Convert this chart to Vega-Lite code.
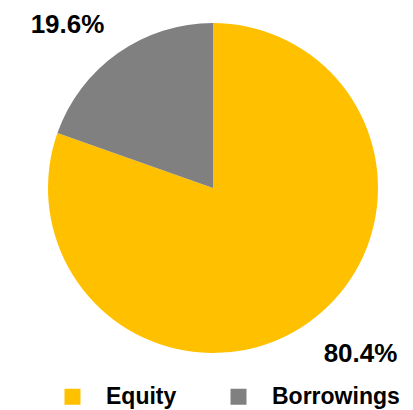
{
  "$schema": "https://vega.github.io/schema/vega-lite/v6.json",
  "width": 426,
  "height": 376,
  "autosize": "pad",
  "padding": 0,
  "background": "white",
  "data": {"values": [
    {"category": "Equity", "value": 80.4, "label": "80.4%"},
    {"category": "Borrowings", "value": 19.6, "label": "19.6%"}
  ]},
  "transform": [
    {"stack": "value", "groupby": [], "sort": [{"field": "value", "order": "descending"}], "as": ["v0", "v1"]},
    {"calculate": "(datum.v0 + datum.v1) / 2", "as": "vmid"}
  ],
  "encoding": {
    "color": {
      "field": "category", "type": "nominal",
      "sort": ["Equity", "Borrowings"],
      "scale": {"domain": ["Equity", "Borrowings"], "range": ["#FFC000", "#808080"]},
      "legend": {
        "title": null,
        "orient": "none",
        "legendX": 61,
        "legendY": 385,
        "padding": 0,
        "direction": "horizontal",
        "symbolType": "square",
        "symbolSize": 256,
        "symbolStrokeWidth": 0,
        "labelFont": "Liberation Sans",
        "labelFontWeight": "bold",
        "labelFontSize": 23,
        "labelColor": "black",
        "labelOffset": 22,
        "columnPadding": 50,
        "labelLimit": 300
      }
    }
  },
  "layer": [
    {
      "mark": {"type": "arc", "outerRadius": 165, "stroke": null},
      "encoding": {
        "theta": {"field": "v0", "type": "quantitative", "stack": null, "scale": {"domain": [0, 100]}},
        "theta2": {"field": "v1"}
      }
    },
    {
      "transform": [{"filter": "datum.category == 'Borrowings'"}],
      "mark": {"type": "text", "radius": 200, "dx": -30, "font": "Liberation Sans", "fontWeight": "bold", "fontSize": 26, "color": "black"},
      "encoding": {
        "theta": {"field": "vmid", "type": "quantitative", "stack": null, "scale": {"domain": [0, 100]}},
        "text": {"field": "label"}, "color": {"value": "black"}
      }
    },
    {
      "transform": [{"filter": "datum.category == 'Equity'"}],
      "mark": {"type": "text", "radius": 200, "dx": 32, "dy": 3, "font": "Liberation Sans", "fontWeight": "bold", "fontSize": 26, "color": "black"},
      "encoding": {
        "theta": {"field": "vmid", "type": "quantitative", "stack": null, "scale": {"domain": [0, 100]}},
        "text": {"field": "label"}, "color": {"value": "black"}
      }
    }
  ],
  "config": {"view": {"stroke": null}}
}
